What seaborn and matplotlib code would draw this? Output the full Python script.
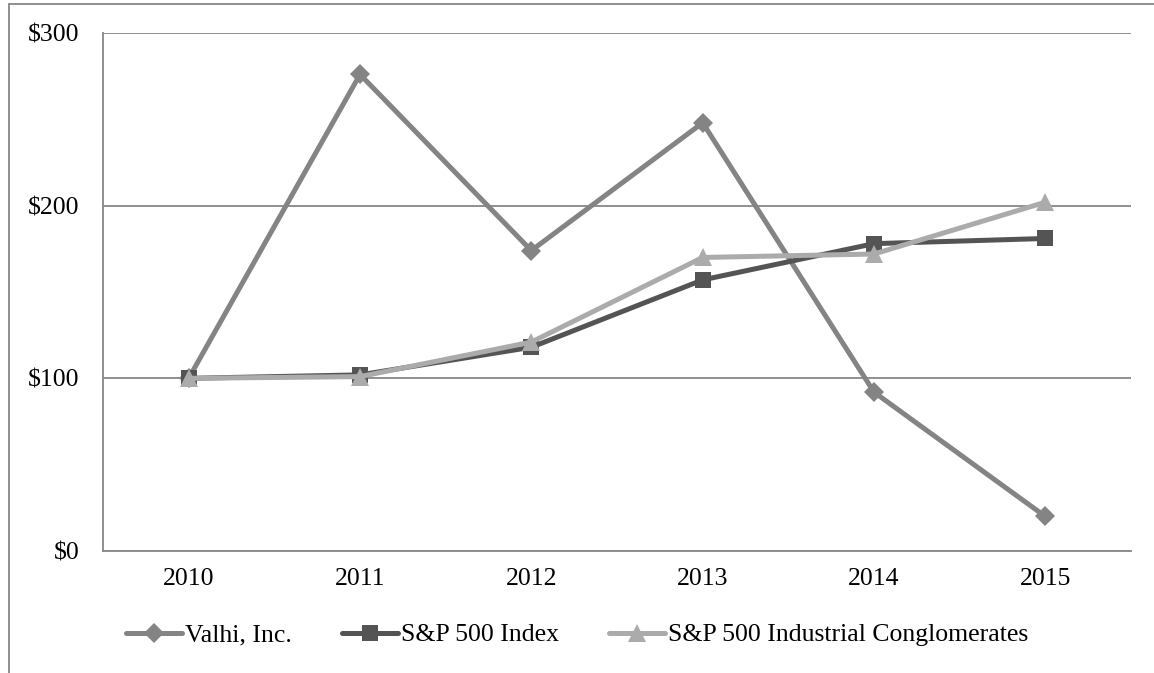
import matplotlib
matplotlib.use("Agg")
import matplotlib.pyplot as plt
import matplotlib.lines as mlines
import seaborn as sns
import pandas as pd

years = ["2010", "2011", "2012", "2013", "2014", "2015"]
valhi = [100, 276, 174, 248, 92, 20]
sp500 = [100, 102, 118, 157, 178, 181]
industrial = [100, 101, 121, 170, 172, 202]
series_names = ["Valhi, Inc.", "S&P 500 Index", "S&P 500 Industrial Conglomerates"]
y_ticks = [0, 100, 200, 300]
y_tick_labels = ["$0", "$100", "$200", "$300"]

colors = ["#848484", "#545454", "#ababab"]
markers = ["D", "s", "^"]
msizes = [10, 12, 13]

rows = []
for name, vals in zip(series_names, [valhi, sp500, industrial]):
    for i, v in enumerate(vals):
        rows.append({"x": i, "value": v, "series": name})
df = pd.DataFrame(rows)

sns.set_style("white")
plt.rcParams["font.family"] = ["Liberation Serif", "DejaVu Serif"]

fig = plt.figure(figsize=(11.54, 6.73), dpi=100)
ax = fig.add_axes([103 / 1154, 1 - 551 / 673, (1131 - 103) / 1154, (551 - 33) / 673])

for name, c, m, ms in zip(series_names, colors, markers, msizes):
    sub = df[df["series"] == name]
    sns.lineplot(data=sub, x="x", y="value", ax=ax, color=c, marker=m,
                 markersize=ms, markeredgewidth=0, linewidth=3.6,
                 legend=False, zorder=3)

FS = 18.5
ax.set_xlim(-0.5, 5.5)
ax.set_ylim(0, 300)
ax.set_xticks(range(len(years)))
ax.set_xticklabels(years, fontsize=FS, color="black")
ax.set_yticks(y_ticks)
ax.set_yticklabels(y_tick_labels, fontsize=FS, color="black")
ax.set_xlabel("")
ax.set_ylabel("")
ax.grid(axis="y", color="#878787", linewidth=1.3)
ax.grid(axis="x", visible=False)
for s in ["top", "right"]:
    ax.spines[s].set_visible(False)
for s in ["left", "bottom"]:
    ax.spines[s].set_color("#878787")
    ax.spines[s].set_linewidth(1.3)
ax.tick_params(axis="y", length=6, color="#878787", width=1.3, pad=11)
ax.tick_params(axis="x", length=0, pad=12)

handles = [mlines.Line2D([], [], color=c, marker=m, markersize=ms,
                         markeredgewidth=0, linewidth=3.6)
           for c, m, ms in zip(colors, markers, msizes)]
fig.legend(handles, series_names, loc="center", bbox_to_anchor=(0.5, 1 - 635 / 673),
           ncol=3, frameon=False, fontsize=FS, handlelength=2.2, handletextpad=0.1,
           columnspacing=1.95, labelcolor="black")

# outer frame (top and left borders)
fig.add_artist(mlines.Line2D([9 / 1154, 1], [1 - 4 / 673, 1 - 4 / 673],
                             transform=fig.transFigure, color="#878787", linewidth=1.3))
fig.add_artist(mlines.Line2D([9 / 1154, 9 / 1154], [0, 1 - 4 / 673],
                             transform=fig.transFigure, color="#878787", linewidth=1.3))

fig.savefig("out.png", dpi=100, facecolor="white")
